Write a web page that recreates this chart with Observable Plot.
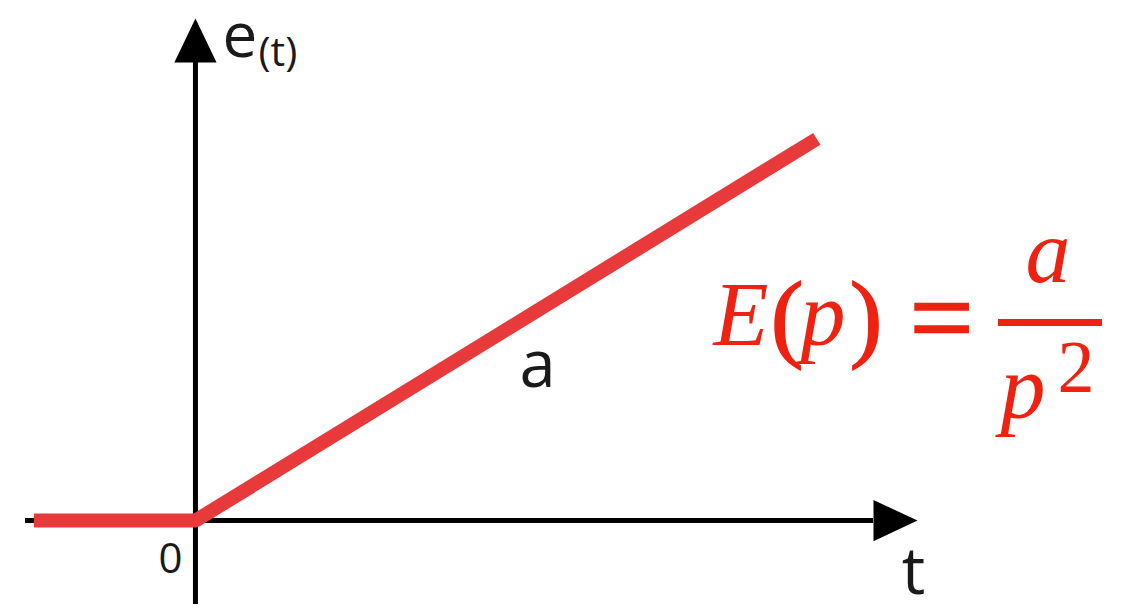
<!DOCTYPE html>
<html>
<head>
<meta charset="utf-8">
<script src="https://cdn.jsdelivr.net/npm/d3@7"></script>
<script src="https://cdn.jsdelivr.net/npm/@observablehq/plot@0.6"></script>
<style>
  html, body { margin: 0; padding: 0; background: #fff; }
  #wrap { position: relative; width: 1127px; height: 606px; overflow: hidden; }
  #wrap > svg.formula { position: absolute; left: 0; top: 0; pointer-events: none; }
</style>
</head>
<body>
<div id="wrap"></div>
<script>
// ---- data (in chart units: t horizontally, e(t) vertically) ----
const rampT = [-1.04, 0, 4];          // ramp signal: 0 for t<0, a·t for t>=0
const rampE = [0, 0, 4];
const xAxisT = [-1.094, 4.365];       // extent of the t axis line
const xArrowTip = [4.648];            // t-axis arrow tip (at e = 0)
const yAxisE = [-0.879, 4.80];        // extent of the e(t) axis line
const yArrowTip = [5.261];            // e-axis arrow tip (at t = 0)
const labelText = ["0", "t", "a"];
const labelT = [-0.161, 4.623, 2.202];
const labelE = [-0.544, -0.764, 1.395];
const labelSize = [42, 66, 65];
const yTitleMain = "e";
const yTitleSub = "(t)";
const yTitleT = [0.174, 0.406];
const yTitleE = [4.853, 4.759];

const ramp = rampT.map((t, i) => ({t, e: rampE[i]}));
const labels = labelText.map((text, i) => ({text, t: labelT[i], e: labelE[i], size: labelSize[i]}));

const ink = "#1a1a1a";
const red = "#e83a3a";

// custom filled arrowhead symbols, tip at the anchor point
const arrowUp = {draw(ctx, size) {
  const r = Math.sqrt(size / Math.PI), w = r * 0.96;
  ctx.moveTo(0, 0); ctx.lineTo(w / 2, r); ctx.lineTo(-w / 2, r); ctx.closePath();
}};
const arrowRight = {draw(ctx, size) {
  const r = Math.sqrt(size / Math.PI), w = r * 0.94;
  ctx.moveTo(0, 0); ctx.lineTo(-r, w / 2); ctx.lineTo(-r, -w / 2); ctx.closePath();
}};

const chart = Plot.plot({
  width: 1127,
  height: 606,
  margin: 0,
  x: {domain: [-1.255, 6], axis: null},
  y: {domain: [-0.9, 5.45], axis: null},
  style: {fontFamily: "'Open Sans', 'Noto Sans', sans-serif", background: "#fff", overflow: "visible"},
  marks: [
    Plot.ruleY([0], {x1: xAxisT[0], x2: xAxisT[1], stroke: "#000", strokeWidth: 5}),
    Plot.ruleX([0], {y1: yAxisE[0], y2: yAxisE[1], stroke: "#000", strokeWidth: 5}),
    Plot.dot(xArrowTip, {x: d => d, y: 0, symbol: arrowRight, r: 44, fill: "#000", stroke: "none"}),
    Plot.dot(yArrowTip, {x: 0, y: d => d, symbol: arrowUp, r: 44, fill: "#000", stroke: "none"}),
    Plot.line(ramp, {x: "t", y: "e", stroke: red, strokeWidth: 14, strokeLinejoin: "round", strokeLinecap: "butt"}),
    Plot.text(labels, {x: "t", y: "e", text: "text", fontSize: d => d.size, fill: ink, textAnchor: "middle", lineAnchor: "bottom"}),
    Plot.text([yTitleMain], {x: yTitleT[0], y: yTitleE[0], text: d => d, fontSize: 62, fill: ink, textAnchor: "start", lineAnchor: "bottom"}),
    Plot.text([yTitleSub], {x: yTitleT[1], y: yTitleE[1], text: d => d, fontSize: 41, fill: ink, textAnchor: "start", lineAnchor: "bottom"})
  ]
});

const wrap = document.getElementById("wrap");
wrap.appendChild(chart);

// ---- formula E(p) = a / p^2 ----
const ns = "http://www.w3.org/2000/svg";
const f = document.createElementNS(ns, "svg");
f.setAttribute("class", "formula");
f.setAttribute("width", 1127);
f.setAttribute("height", 606);
const fRed = "#ee2211";
const serif = "'Liberation Serif', 'Times New Roman', serif";
function glyph(txt, x, y, size, italic, thick) {
  const t = document.createElementNS(ns, "text");
  t.textContent = txt;
  t.setAttribute("x", x);
  t.setAttribute("y", y);
  t.setAttribute("font-size", size);
  t.setAttribute("font-family", serif);
  if (italic) t.setAttribute("font-style", "italic");
  t.setAttribute("text-anchor", "middle");
  t.setAttribute("fill", fRed);
  if (thick) { t.setAttribute("stroke", fRed); t.setAttribute("stroke-width", thick); }
  f.appendChild(t);
}
glyph("E", 741, 345, 90, true);
glyph("(", 787, 349, 98, false, 1.5);
glyph("p", 823, 345, 90, true);
glyph(")", 866, 349, 98, false, 1.5);
glyph("=", 941.5, 355, 112, false, 2.5);
glyph("a", 1048, 282, 90, true);
glyph("p", 1023, 418, 90, true);
glyph("2", 1076, 392, 74, false);
const bar = document.createElementNS(ns, "rect");
bar.setAttribute("x", 998);
bar.setAttribute("y", 319);
bar.setAttribute("width", 104);
bar.setAttribute("height", 7);
bar.setAttribute("fill", fRed);
f.appendChild(bar);
wrap.appendChild(f);
</script>
</body>
</html>
